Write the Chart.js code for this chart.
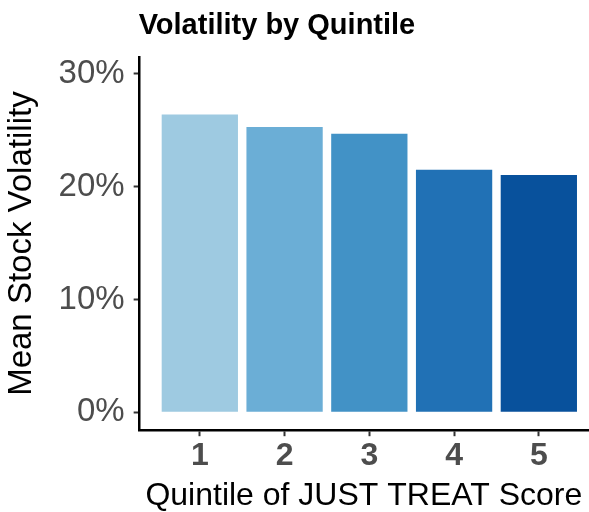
<!DOCTYPE html>
<html>
<head>
<meta charset="utf-8">
<script src="https://cdn.jsdelivr.net/npm/chart.js@4"></script>
<style>
  body { margin: 0; background: #fff; }
  #wrap { width: 589px; height: 512px; }
</style>
</head>
<body>
<div id="wrap"><canvas id="volChart" width="589" height="512"></canvas></div>
<script>
// quintiles and mean volatility per quintile
const quintiles = [1, 2, 3, 4, 5];
const meanVol = [0.264, 0.253, 0.247, 0.215, 0.2105];
const barColors = ["#9ecae1", "#6baed6", "#4292c6", "#2171b5", "#08519c"];
const yTicks = [0, 0.1, 0.2, 0.3];

const FONT = "'Liberation Sans', Arial, sans-serif";

// title drawn at the left edge of the plot panel, like ggplot
const panelTitle = {
  id: "panelTitle",
  afterDraw(chart) {
    const c = chart.ctx;
    c.save();
    c.font = "bold 29px " + FONT;
    c.fillStyle = "#000";
    c.textBaseline = "alphabetic";
    c.fillText("Volatility by Quintile", chart.chartArea.left - 1, 34);
    c.restore();
  },
};

const ctx = document.getElementById("volChart").getContext("2d");
new Chart(ctx, {
  type: "bar",
  data: {
    datasets: [
      {
        data: quintiles.map((q, i) => ({ x: q, y: meanVol[i] })),
        backgroundColor: barColors,
        barPercentage: 0.9,
        categoryPercentage: 1.0,
      },
    ],
  },
  options: {
    responsive: false,
    animation: false,
    layout: { padding: { top: 57, right: 1, left: 2, bottom: -3 } },
    plugins: {
      legend: { display: false },
      tooltip: { enabled: false },
    },
    scales: {
      x: {
        type: "linear",
        min: 0.29,
        max: 5.58,
        offset: false,
        afterBuildTicks: (scale) => {
          scale.ticks = quintiles.map((v) => ({ value: v }));
        },
        grid: {
          offset: false,
          drawOnChartArea: false,
          tickLength: 6,
          tickColor: "#333",
          tickWidth: 2,
        },
        border: { display: true, color: "#000", width: 2.5 },
        ticks: {
          font: { family: FONT, size: 32, weight: "bold" },
          color: "#4d4d4d",
          padding: 1,
          callback: (v) => String(v),
        },
        title: {
          display: true,
          text: "Quintile of JUST TREAT Score",
          font: { family: FONT, size: 32 },
          color: "#000",
          padding: { top: 0, bottom: 0 },
        },
      },
      y: {
        min: -0.0158,
        max: 0.315,
        afterBuildTicks: (scale) => {
          scale.ticks = yTicks.map((v) => ({ value: v }));
        },
        grid: {
          drawOnChartArea: false,
          tickLength: 6,
          tickColor: "#333",
          tickWidth: 2,
        },
        border: { display: true, color: "#000", width: 2.5 },
        ticks: {
          font: { family: FONT, size: 33 },
          color: "#4d4d4d",
          padding: 9,
          callback: (v) => Math.round(v * 100) + "%",
        },
        title: {
          display: true,
          text: "Mean Stock Volatility",
          font: { family: FONT, size: 33 },
          color: "#000",
          padding: { top: 0, bottom: 8 },
        },
      },
    },
  },
  plugins: [panelTitle],
});
</script>
</body>
</html>
